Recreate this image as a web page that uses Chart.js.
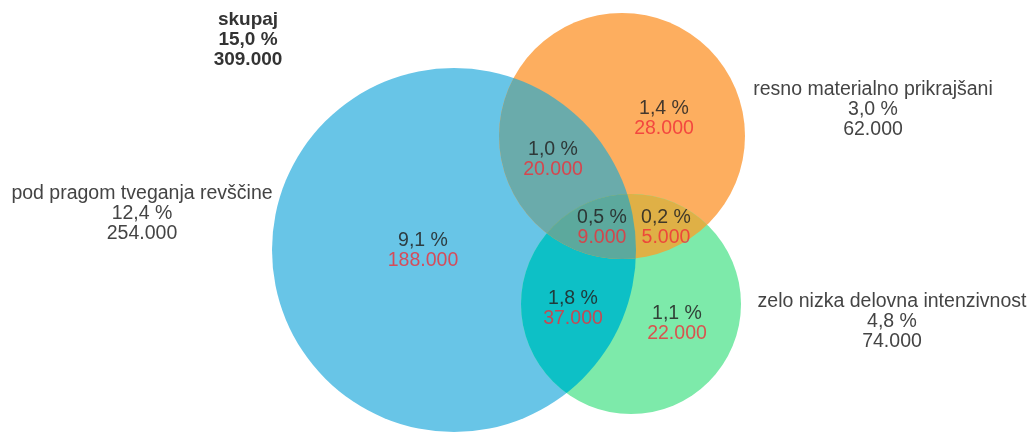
<!DOCTYPE html>
<html>
<head>
<meta charset="utf-8">
<script src="https://cdn.jsdelivr.net/npm/chart.js@4/dist/chart.umd.min.js"></script>
<style>
  html, body { margin: 0; padding: 0; background: #ffffff; }
  #wrap { width: 1032px; height: 432px; position: relative; }
</style>
</head>
<body>
<div id="wrap"><canvas id="c"></canvas></div>
<script>
// ---- data ----
const setNames    = ['pod pragom tveganja revščine', 'resno materialno prikrajšani', 'zelo nizka delovna intenzivnost'];
const setPercents = ['12,4 %', '3,0 %', '4,8 %'];
const setCounts   = ['254.000', '62.000', '74.000'];

// regions: only blue, only orange, only green, blue∩orange, blue∩green, orange∩green, all three
const regionSets     = [[0], [1], [2], [0, 1], [0, 2], [1, 2], [0, 1, 2]];
const regionPercents = ['9,1 %', '1,4 %', '1,1 %', '1,0 %', '1,8 %', '0,2 %', '0,5 %'];
const regionCounts   = ['188.000', '28.000', '22.000', '20.000', '37.000', '5.000', '9.000'];

const totalLabel   = 'skupaj';
const totalPercent = '15,0 %';
const totalCount   = '309.000';

// ---- layout (chart units equal to pixels of the 1032x432 area) ----
const circleX = [454, 622, 631];
const circleY = [250, 136, 304];
const circleR = [182, 123, 110];
const setLabelPos    = [[142, 194], [873, 90], [892, 302]];
const regionLabelPos = [[423, 241], [664, 109], [677, 314], [553, 150], [573, 299], [666, 218], [602, 218]];
const totalPos = [248, 20];

// ---- styles ----
const circleColors  = ['#68c5e7', '#fdae5f', '#7deaaa'];
const overlapColors = { '0,1': '#6aabab', '0,2': '#0dc0c6', '1,2': '#dfb046', '0,1,2': '#5ca99d' };
const FONT = '"Liberation Sans", Arial, sans-serif';

const overlapPlugin = {
  id: 'overlaps',
  afterDatasetsDraw(chart) {
    const ctx = chart.ctx;
    const pts = chart.getDatasetMeta(0).data;
    const order = ['0,1', '0,2', '1,2', '0,1,2'];
    order.forEach(key => {
      const idx = key.split(',').map(Number);
      ctx.save();
      for (let k = 0; k < idx.length - 1; k++) {
        const p = pts[idx[k]];
        ctx.beginPath();
        ctx.arc(p.x, p.y, p.options.radius, 0, Math.PI * 2);
        ctx.clip();
      }
      const last = pts[idx[idx.length - 1]];
      ctx.beginPath();
      ctx.arc(last.x, last.y, last.options.radius, 0, Math.PI * 2);
      ctx.fillStyle = overlapColors[key];
      ctx.fill();
      ctx.restore();
    });
  }
};

const labelPlugin = {
  id: 'vennLabels',
  afterDraw(chart) {
    const ctx = chart.ctx;
    const sx = chart.scales.x, sy = chart.scales.y;
    const px = v => sx.getPixelForValue(v);
    const py = v => sy.getPixelForValue(v);
    ctx.save();
    ctx.textAlign = 'center';
    ctx.textBaseline = 'middle';
    // total
    ctx.fillStyle = '#333333';
    ctx.font = 'bold 19px ' + FONT;
    [totalLabel, totalPercent, totalCount].forEach((t, i) => {
      ctx.fillText(t, px(totalPos[0]), py(totalPos[1] + i * 20));
    });
    // set labels
    ctx.font = '19.5px ' + FONT;
    ctx.fillStyle = '#444444';
    setNames.forEach((n, s) => {
      const [x, y] = setLabelPos[s];
      [n, setPercents[s], setCounts[s]].forEach((t, i) => {
        ctx.fillText(t, px(x), py(y + i * 20));
      });
    });
    // region labels
    regionSets.forEach((r, k) => {
      const [x, y] = regionLabelPos[k];
      ctx.fillStyle = 'rgba(35,35,35,0.85)';
      ctx.fillText(regionPercents[k], px(x), py(y));
      ctx.fillStyle = 'rgba(240,45,55,0.8)';
      ctx.fillText(regionCounts[k], px(x), py(y + 20));
    });
    ctx.restore();
  }
};

new Chart(document.getElementById('c'), {
  type: 'bubble',
  data: {
    datasets: [{
      label: 'venn',
      data: circleX.map((x, i) => ({ x: x, y: circleY[i], r: circleR[i] })),
      backgroundColor: circleColors,
      borderWidth: 0,
      hoverRadius: 0,
      clip: false
    }]
  },
  options: {
    responsive: true,
    maintainAspectRatio: false,
    animation: false,
    events: [],
    layout: { padding: 0, autoPadding: false },
    plugins: { legend: { display: false }, tooltip: { enabled: false } },
    scales: {
      x: { type: 'linear', min: 0, max: 1032, display: false },
      y: { type: 'linear', min: 0, max: 432, reverse: true, display: false }
    }
  },
  plugins: [overlapPlugin, labelPlugin]
});
</script>
</body>
</html>
